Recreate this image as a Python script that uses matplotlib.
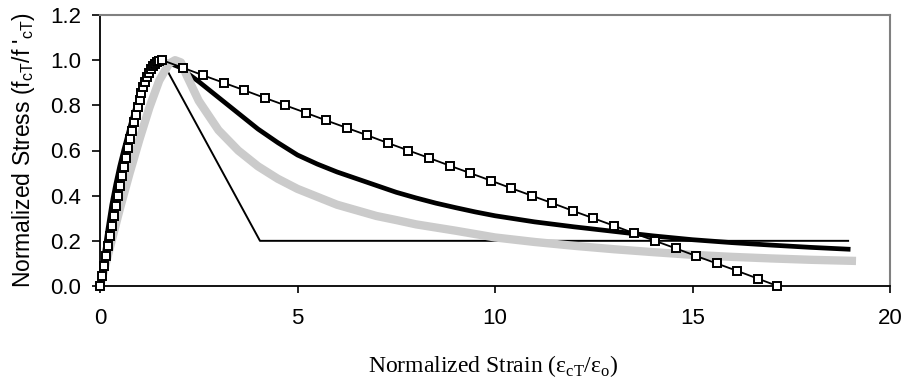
import numpy as np
import matplotlib
matplotlib.use("Agg")
import matplotlib.pyplot as plt

# thick black curve
thick_x = [0, 0.1, 0.2, 0.3, 0.4, 0.5, 0.6, 0.7, 0.8, 0.9, 1.0, 1.1, 1.2, 1.3, 1.4, 1.5, 1.57,
           2.0, 2.5, 3.0, 3.5, 4.0, 4.5, 5.0, 5.5, 6.0, 6.5, 7.0, 7.5, 8.0, 8.5, 9.0, 9.5, 10.0,
           11, 12, 13, 14, 15, 16, 17, 18, 18.94]
thick_y = [0, 0.13, 0.25, 0.36, 0.45, 0.53, 0.60, 0.665, 0.73, 0.79, 0.84, 0.885, 0.925, 0.955, 0.98, 0.995, 1.0,
           0.97, 0.905, 0.835, 0.765, 0.695, 0.635, 0.58, 0.54, 0.505, 0.475, 0.445, 0.415, 0.39, 0.367, 0.347, 0.328, 0.311,
           0.284, 0.262, 0.242, 0.222, 0.205, 0.192, 0.181, 0.171, 0.163]

# thin black trilinear line
thin_x = [0, 0.2, 0.4, 0.6, 0.8, 1.0, 1.2, 1.4, 1.56, 4.05, 18.94]
thin_y = [0, 0.25, 0.45, 0.60, 0.73, 0.84, 0.925, 0.98, 1.0, 0.2, 0.2]

# light gray curve
gray_x = [0, 0.25, 0.5, 0.75, 1.0, 1.25, 1.5, 1.75, 1.9, 2.05, 2.2, 2.5, 3.0, 3.5, 4.0, 4.5, 5.0, 5.5,
          6.0, 6.5, 7.0, 7.5, 8.0, 9.0, 10.0, 11, 12, 13, 14, 15, 16, 17, 18, 19.14]
gray_y = [0, 0.17, 0.34, 0.50, 0.65, 0.79, 0.91, 0.985, 1.0, 0.99, 0.93, 0.82, 0.69, 0.60, 0.53, 0.475, 0.43, 0.395,
          0.36, 0.335, 0.31, 0.292, 0.273, 0.245, 0.215, 0.195, 0.178, 0.163, 0.150, 0.138, 0.129, 0.122, 0.116, 0.111]

# black line with open squares
sq_x = [0, 0.05, 0.10, 0.15, 0.20, 0.25, 0.30, 0.35, 0.40, 0.45, 0.50, 0.55, 0.60, 0.65, 0.70, 0.75,
        0.80, 0.85, 0.90, 0.95, 1.00, 1.05, 1.10, 1.15, 1.20, 1.25, 1.30, 1.35, 1.40, 1.45, 1.50,
        1.57, 2.09, 2.61, 3.13, 3.65, 4.17, 4.69, 5.21, 5.73, 6.25, 6.77, 7.29, 7.81, 8.33, 8.85,
        9.37, 9.89, 10.41, 10.93, 11.45, 11.97, 12.49, 13.01, 13.53, 14.05, 14.57, 15.09, 15.61,
        16.13, 16.65, 17.15]
sq_y = [0, 0.045, 0.089, 0.134, 0.178, 0.223, 0.267, 0.311, 0.356, 0.399, 0.443, 0.486, 0.528, 0.569, 0.610, 0.649,
        0.687, 0.724, 0.759, 0.793, 0.824, 0.853, 0.880, 0.904, 0.926, 0.945, 0.961, 0.974, 0.985, 0.992, 0.997,
        1.000, 0.967, 0.933, 0.900, 0.867, 0.833, 0.800, 0.767, 0.733, 0.700, 0.667, 0.633, 0.600, 0.567, 0.533,
        0.500, 0.467, 0.433, 0.400, 0.367, 0.333, 0.300, 0.267, 0.233, 0.200, 0.167, 0.133, 0.100,
        0.067, 0.033, 0.000]

x_ticks = [0, 5, 10, 15, 20]
y_ticks = [0.0, 0.2, 0.4, 0.6, 0.8, 1.0, 1.2]

plt.rcParams['font.family'] = ['Liberation Sans', 'DejaVu Sans']

fig = plt.figure(figsize=(9.07, 3.89), dpi=100)
ax = fig.add_axes([100/907, 1 - 286/389, 790/907, 271/389])

ax.plot(thin_x, thin_y, color='black', lw=1.4, zorder=2)
ax.plot(thick_x, thick_y, color='black', lw=3.4, zorder=3)
ax.plot(gray_x, gray_y, color='#cbcbcb', lw=6, zorder=4, solid_capstyle='butt')
ax.plot(sq_x, sq_y, color='black', lw=1.3, marker='s', ms=5.5, mfc='white',
        mec='black', mew=1.4, zorder=5, clip_on=False)

ax.set_xlim(0, 20)
ax.set_ylim(0, 1.2)
ax.set_xticks(x_ticks)
ax.set_yticks(y_ticks)
ax.set_yticklabels([f"{v:.1f}" for v in y_ticks])
ax.tick_params(axis='both', direction='out', labelsize=16, width=1.2, color='black')
ax.tick_params(axis='x', length=5, pad=11)
ax.tick_params(axis='y', length=5.5, pad=8)

for s in ['top', 'right']:
    ax.spines[s].set_color('#808080')
    ax.spines[s].set_linewidth(1.5)
for s in ['left', 'bottom']:
    ax.spines[s].set_color('black')
    ax.spines[s].set_linewidth(1.3)

fig.text(24/907, 1 - 150/389,
         "Normalized Stress (f$_{\\mathregular{cT}}$/f '$_{\\mathregular{cT}}$)",
         fontsize=16.5, rotation=90, ha='center', va='center')
fig.text(493/907, 1 - 366/389,
         "Normalized Strain (\u03b5$_{\\mathregular{cT}}$/\u03b5$_{\\mathregular{o}}$)",
         fontsize=17, family=['Liberation Serif', 'DejaVu Serif'], ha='center', va='center')

fig.savefig("out.png", dpi=100)
